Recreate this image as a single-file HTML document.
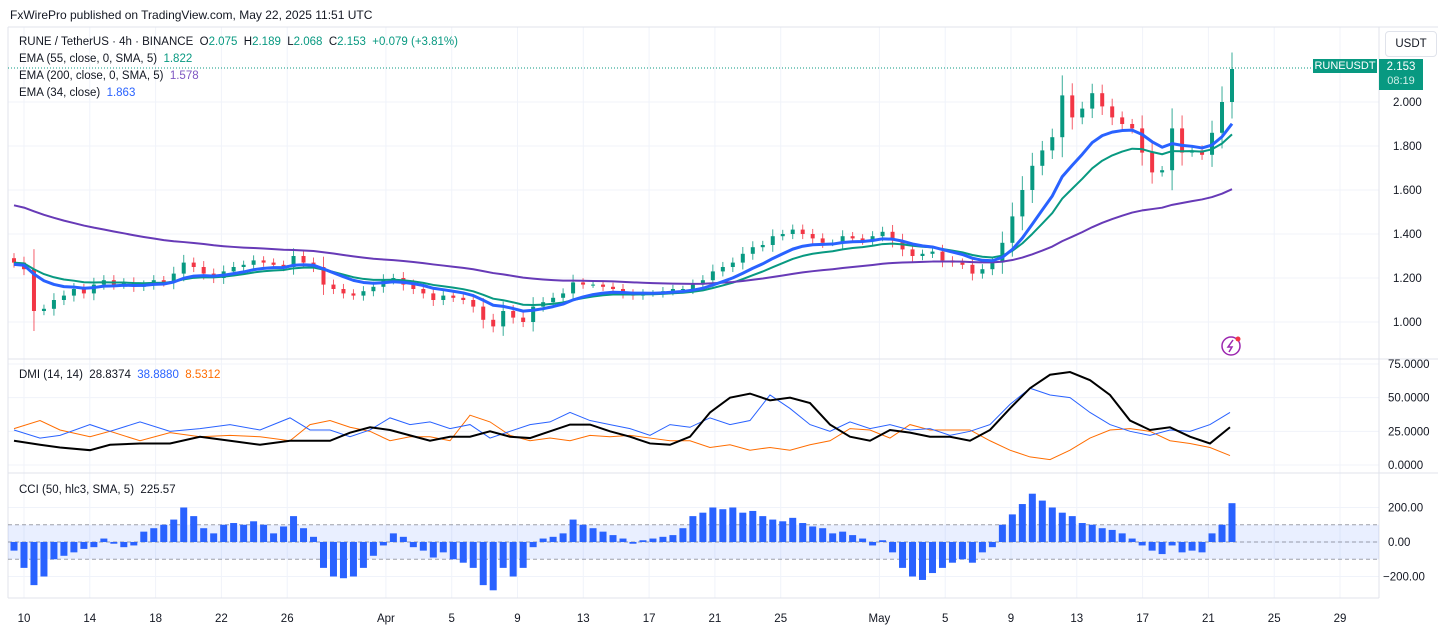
<!DOCTYPE html>
<html><head><meta charset="utf-8"><style>
body{margin:0;background:#fff;font-family:"Liberation Sans",sans-serif;}
#wrap{position:relative;width:1438px;height:631px;overflow:hidden;}
.t{position:absolute;font-size:11.5px;color:#131722;white-space:nowrap;}
</style></head><body>
<div id="wrap">
<div class="t" style="left:10px;top:8px;font-size:12px;">FxWirePro published on TradingView.com, May 22, 2025 11:51 UTC</div>
<svg id="svg" width="1438" height="631" style="position:absolute;left:0;top:0"></svg>
<div class="t" style="left:19px;top:36px">RUNE / TetherUS · 4h · BINANCE &nbsp;O<span style="color:#089981">2.075</span> &nbsp;H<span style="color:#089981">2.189</span> &nbsp;L<span style="color:#089981">2.068</span> &nbsp;C<span style="color:#089981">2.153 &nbsp;+0.079 (+3.81%)</span></div>
<div class="t" style="left:19px;top:53px">EMA (55, close, 0, SMA, 5) &nbsp;<span style="color:#089981">1.822</span></div>
<div class="t" style="left:19px;top:70px">EMA (200, close, 0, SMA, 5) &nbsp;<span style="color:#7e57c2">1.578</span></div>
<div class="t" style="left:19px;top:87px">EMA (34, close) &nbsp;<span style="color:#2962ff">1.863</span></div>
<div class="t" style="left:19px;top:369px">DMI (14, 14) &nbsp;28.8374 &nbsp;<span style="color:#2962ff">38.8880</span> &nbsp;<span style="color:#ff6d00">8.5312</span></div>
<div class="t" style="left:19px;top:484px">CCI (50, hlc3, SMA, 5) &nbsp;225.57</div>
<div class="t" style="left:1385px;top:31px;width:50px;height:24px;border:1px solid #e0e3eb;border-radius:4px;line-height:24px;text-align:center;">USDT</div>
<div class="t" style="left:1313px;top:59px;width:64px;height:14px;background:#089981;color:#fff;font-size:11px;line-height:14px;text-align:center;">RUNEUSDT</div>
<div class="t" style="left:1379px;top:59px;width:44px;height:30px;background:#089981;color:#fff;text-align:center;line-height:14px;padding-top:1px">2.153<br><span style="font-size:11px;color:#cdeee7">08:19</span></div>
</div>
<script>
const closes=[1.27,1.24,1.05,1.06,1.10,1.12,1.15,1.13,1.17,1.19,1.17,1.18,1.16,1.17,1.19,1.18,1.22,1.27,1.25,1.22,1.20,1.23,1.25,1.26,1.28,1.27,1.26,1.25,1.30,1.27,1.25,1.17,1.15,1.13,1.12,1.14,1.16,1.19,1.20,1.17,1.15,1.13,1.10,1.12,1.11,1.10,1.07,1.01,0.98,1.05,1.02,1.00,1.07,1.09,1.11,1.13,1.18,1.17,1.17,1.16,1.15,1.13,1.12,1.13,1.13,1.14,1.15,1.15,1.17,1.19,1.23,1.25,1.27,1.31,1.34,1.35,1.39,1.40,1.42,1.40,1.38,1.36,1.36,1.39,1.38,1.37,1.39,1.41,1.37,1.33,1.30,1.31,1.32,1.28,1.27,1.26,1.22,1.24,1.27,1.36,1.48,1.60,1.71,1.78,1.84,2.03,1.93,1.97,2.04,1.98,1.93,1.90,1.88,1.77,1.68,1.69,1.88,1.77,1.78,1.76,1.86,2.00,2.15];
const firstOpen=1.29;
const emaSeeds=[1.26,1.27,1.54];
const adx=[18,15,13,11,15,16,16,21,18,15,18,18,18,24,28,26,22,18,21,21,25,21,20,25,30,30,25,21,16,15,21,39,50,53,48,50,46,30,21,18,26,24,21,21,18,26,42,57,67,69,63,52,33,26,28,21,16,28];
const diPlus=[26,20,22,30,25,32,25,27,30,26,35,26,26,21,26,35,30,32,27,30,20,25,30,32,39,33,30,27,22,30,28,35,30,33,52,42,30,25,32,27,30,26,27,22,25,30,45,57,52,50,39,30,25,22,26,25,30,39];
const diMinus=[27,33,26,21,25,18,24,21,22,21,18,30,33,28,25,18,21,21,18,37,32,22,18,20,18,22,21,22,20,18,18,13,15,11,13,11,15,18,27,26,20,30,26,26,26,18,11,6,4,11,20,26,27,25,18,16,13,7];
const dmiX=[14,40,60,90,110,140,170,200,230,260,290,310,330,350,370,390,410,430,450,470,490,510,530,550,570,590,610,630,650,670,690,710,730,750,770,790,810,830,850,870,890,910,930,950,970,990,1010,1030,1050,1070,1090,1110,1130,1150,1170,1190,1210,1230];
const cci=[-50,-150,-250,-200,-100,-80,-60,-40,-30,20,-10,-30,-20,60,80,100,130,200,150,80,50,100,110,100,120,100,50,90,150,80,30,-150,-200,-210,-200,-150,-80,-20,50,30,-30,-50,-90,-60,-100,-120,-150,-250,-280,-150,-200,-150,-30,20,30,50,130,100,80,60,40,20,-10,10,20,30,40,80,150,170,200,190,200,170,180,150,130,120,140,110,90,80,50,60,40,20,-20,10,-60,-150,-200,-220,-180,-150,-120,-100,-120,-60,-30,100,160,220,280,240,200,170,150,110,100,80,70,50,20,-20,-50,-70,-20,-60,-50,-60,50,100,225];
const priceTicks=["1.000","1.200","1.400","1.600","1.800","2.000"];
const dmiTicks=["0.0000","25.0000","50.0000","75.0000"];
const cciTicks=["-200.00","0.00","200.00"];
const dayLabels=["10","14","18","22","26","Apr","5","9","13","17","21","25","May","5","9","13","17","21","25","29"];
const dayOffsets=[0,4,8,12,16,22,26,30,34,38,42,46,52,56,60,64,68,72,76,80];

const NS="http://www.w3.org/2000/svg";
const svg=document.getElementById('svg');
function mk(tag,attrs,parent){const e=document.createElementNS(NS,tag);for(const k in attrs)e.setAttribute(k,attrs[k]);(parent||svg).appendChild(e);return e;}
const PL=8,PR=1379;
const xBar=i=>14+i*(1218/(closes.length-1));
const yP=p=>322-(p-1)*220;
const yD=v=>465-v*1.347;
const yC=v=>542-v*0.1725;
const xDay=d=>24+d*16.45;
const FS=11.5;

dayOffsets.forEach(d=>{const g=mk('line',{x1:xDay(d),x2:xDay(d),y1:27,y2:598,stroke:'#f0f3fa'});

});
priceTicks.forEach(t=>{const y=yP(+t);const g=mk('line',{x1:PL,x2:PR,y1:y,y2:y,stroke:'#f0f3fa'});


const tx=mk('text',{x:1393,y:y+4,'font-size':FS,fill:'#131722','font-family':'Liberation Sans'});tx.textContent=t;

});
dmiTicks.forEach(t=>{const y=yD(+t);const g=mk('line',{x1:PL,x2:PR,y1:y,y2:y,stroke:'#f0f3fa'});


const tx=mk('text',{x:1388,y:y+4,'font-size':FS,fill:'#131722','font-family':'Liberation Sans'});tx.textContent=t;

});
cciTicks.forEach(t=>{const y=yC(+t);const g=mk('line',{x1:PL,x2:PR,y1:y,y2:y,stroke:'#f0f3fa'});


const tx=mk('text',{x:t[0]=='-'?1383:1388,y:y+4,'font-size':FS,fill:'#131722','font-family':'Liberation Sans'});tx.textContent=t.replace('-','−');

});
dayLabels.forEach((l,i)=>{const tx=mk('text',{x:xDay(dayOffsets[i]),y:622,'font-size':FS,fill:'#131722','text-anchor':'middle','font-family':'Liberation Sans'});tx.textContent=l;

});
[[PL,27,1438,27],[PL,359,1438,359],[PL,473,1438,473],[PL,598,PR,598],[PR,27,PR,598],[PL,27,PL,598]].forEach(a=>{const l=mk('line',{x1:a[0],y1:a[1],x2:a[2],y2:a[3],stroke:'#e0e3eb'});

});

const lp=mk('line',{x1:PL,x2:1313,y1:yP(closes[closes.length-1])-1,y2:yP(closes[closes.length-1])-1,stroke:'#089981','stroke-dasharray':'1 2'});



function ema(alpha,seed){let e=seed;return closes.map(c=>(e=e+alpha*(c-e)));}
const emaDefs=[[2/16.3,emaSeeds[1],'#089981',2,'ema55-line'],[2/56,emaSeeds[2],'#673ab7',2,'ema200-line'],[2/10.4,emaSeeds[0],'#2962ff',3,'ema34-line']];
closes.forEach((c,i)=>{const o=i?closes[i-1]:firstOpen;const up=c>=o;const col=up?'#089981':'#f23645';const x=xBar(i);
const w=Math.abs(c-o)*0.4+0.015;
const wk=mk('line',{x1:x,x2:x,y1:yP(Math.max(o,c)+w),y2:yP(Math.min(o,c)-w),stroke:col,'stroke-width':1,'stroke-opacity':0.8});


const b=mk('rect',{x:x-2,y:yP(Math.max(o,c)),width:4,height:Math.max(1,Math.abs(yP(o)-yP(c))),fill:col});

});
emaDefs.forEach(d=>{const v=ema(d[0],d[1]);const p=mk('polyline',{points:v.map((e,i)=>xBar(i)+','+yP(e)).join(' '),fill:'none',stroke:d[2],'stroke-width':d[3],'stroke-linejoin':'round'});

});

[[diMinus,'#ff6d00',1,'di-minus-line'],[diPlus,'#2962ff',1,'di-plus-line'],[adx,'#000',2,'adx-line']].forEach(d=>{const p=mk('polyline',{points:d[0].map((v,i)=>dmiX[i]+','+yD(v)).join(' '),fill:'none',stroke:d[1],'stroke-width':d[2]});

});

const band=mk('rect',{x:PL,y:yC(100),width:PR-PL,height:yC(-100)-yC(100),fill:'#2962ff','fill-opacity':0.1});


[100,0,-100].forEach(v=>{const l=mk('line',{x1:PL,x2:PR,y1:yC(v),y2:yC(v),stroke:'#787b86','stroke-dasharray':'4 3','stroke-opacity':0.7});

});
cci.forEach((v,i)=>{const x=xBar(i);const r=mk('rect',{x:x-3.5,y:Math.min(yC(v),yC(0)),width:7,height:Math.abs(yC(v)-yC(0)),fill:'#2962ff'});

});

const ic=mk('g',{});


mk('circle',{cx:1231,cy:346,r:9,fill:'none',stroke:'#9c27b0','stroke-width':1.5},ic);
mk('path',{d:'M1233 340 L1228 347 L1232 347 L1229 352',fill:'none',stroke:'#9c27b0','stroke-width':1.5},ic);
mk('circle',{cx:1238,cy:339,r:2.5,fill:'#f23645'},ic);
</script>
</body></html>
